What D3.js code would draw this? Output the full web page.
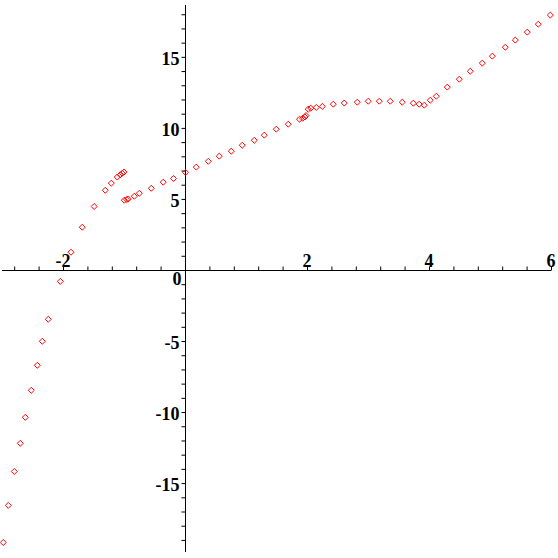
<!DOCTYPE html>
<html>
<head>
<meta charset="utf-8">
<script src="https://cdn.jsdelivr.net/npm/d3@7"></script>
<style>
  body { margin: 0; background: #fff; }
  svg { display: block; }
</style>
</head>
<body>
<div id="my_dataviz"></div>
<script>

// point data
var xVals = [-2.979, -2.897, -2.798, -2.700, -2.618, -2.520, -2.421, -2.339, -2.241, -2.044,
  -1.869, -1.684, -1.489, -1.307, -1.208, -1.110, -1.062, -1.028, -1.000,
  -0.995, -0.954, -0.930, -0.831, -0.749, -0.552, -0.357, -0.189, 0.008, 0.185,
  0.382, 0.562, 0.759, 0.939, 1.136, 1.300, 1.497, 1.693, 1.877, 1.930, 1.967, 1.984,
  2.021, 2.062, 2.152, 2.251, 2.431, 2.611, 2.825, 3.005, 3.185, 3.366, 3.562, 3.743,
  3.839, 3.923, 4.021, 4.120, 4.300, 4.497, 4.677, 4.874, 5.038, 5.251, 5.415, 5.611,
  5.792, 5.989];
var yVals = [-19.18, -16.57, -14.18, -12.20, -10.37, -8.47, -6.71, -5.02, -3.47, -0.80,
  1.25, 3.01, 4.47, 5.61, 6.11, 6.54, 6.70, 6.81, 6.89,
  4.91, 4.96, 5.00, 5.19, 5.40, 5.75, 6.18, 6.44, 6.87, 7.24,
  7.65, 8.01, 8.36, 8.78, 9.13, 9.49, 9.91, 10.26, 10.61, 10.68, 10.77, 10.87,
  11.32, 11.39, 11.44, 11.51, 11.67, 11.75, 11.81, 11.88, 11.88, 11.88, 11.81, 11.74,
  11.67, 11.60, 11.95, 12.23, 12.87, 13.43, 13.99, 14.56, 15.05, 15.68, 16.18, 16.74,
  17.30, 17.94];

var xTickLabels = [-2, 2, 4, 6];
var yTickLabels = [-15, -10, -5, 5, 10, 15];
var originLabel = "0";

var pts = xVals.map(function(d, i) { return {x: d, y: yVals[i]}; });

var width = 558, height = 558;

var svg = d3.select("#my_dataviz")
  .append("svg")
    .attr("width", width)
    .attr("height", height);

var x = d3.scaleLinear().domain([-3, 6]).range([2, 551]);
var y = d3.scaleLinear().domain([-19.85, 18.65]).range([552, 5]);

var x0 = Math.round(x(0)) + 0.5, y0 = Math.round(y(0)) + 0.5;

// axes crossing at the origin
var axX = svg.append("g").attr("transform", "translate(0," + y0 + ")")
  .call(d3.axisTop(x)
    .tickValues(d3.range(-2.8, 6.01, 0.4).filter(function(v) { return Math.abs(v) > 1e-6; }))
    .tickSize(4).tickFormat(""));
axX.select(".domain").attr("d", "M" + x(-3) + ",0H" + x(6)).attr("stroke", "black");
axX.selectAll(".tick line").attr("stroke", "black");

var axY = svg.append("g").attr("transform", "translate(" + x0 + ",0)")
  .call(d3.axisLeft(y)
    .tickValues(d3.range(-19, 19, 1).filter(function(v) { return v !== 0; }))
    .tickSize(4).tickFormat(""));
axY.select(".domain").attr("d", "M0," + y(18.65) + "V" + y(-19.85)).attr("stroke", "black");
axY.selectAll(".tick line").attr("stroke", "black");

// tick labels
var lblFont = "'Liberation Serif', 'DejaVu Serif', serif";

svg.selectAll(".xlbl").data(xTickLabels).enter().append("text")
  .attr("x", function(d) { return x(d); })
  .attr("y", y0 - 4)
  .attr("text-anchor", "middle")
  .attr("font-family", lblFont).attr("font-weight", "bold").attr("font-size", 18)
  .text(function(d) { return d; });

svg.selectAll(".ylbl").data(yTickLabels).enter().append("text")
  .attr("x", x0 - 6)
  .attr("y", function(d) { return y(d) + 8; })
  .attr("text-anchor", "end")
  .attr("font-family", lblFont).attr("font-weight", "bold").attr("font-size", 18)
  .text(function(d) { return d; });

svg.append("text")
  .attr("x", x0 - 4)
  .attr("y", y0 + 14)
  .attr("text-anchor", "end")
  .attr("font-family", lblFont).attr("font-weight", "bold").attr("font-size", 18)
  .text(originLabel);

// diamond markers
var diamond = d3.symbol().type(d3.symbolDiamond2).size(23);
svg.selectAll(".pt").data(pts).enter().append("path")
  .attr("d", diamond)
  .attr("transform", function(d) { return "translate(" + x(d.x) + "," + y(d.y) + ")"; })
  .attr("fill", "none")
  .attr("stroke", "red")
  .attr("stroke-width", 1);

</script>
</body>
</html>
